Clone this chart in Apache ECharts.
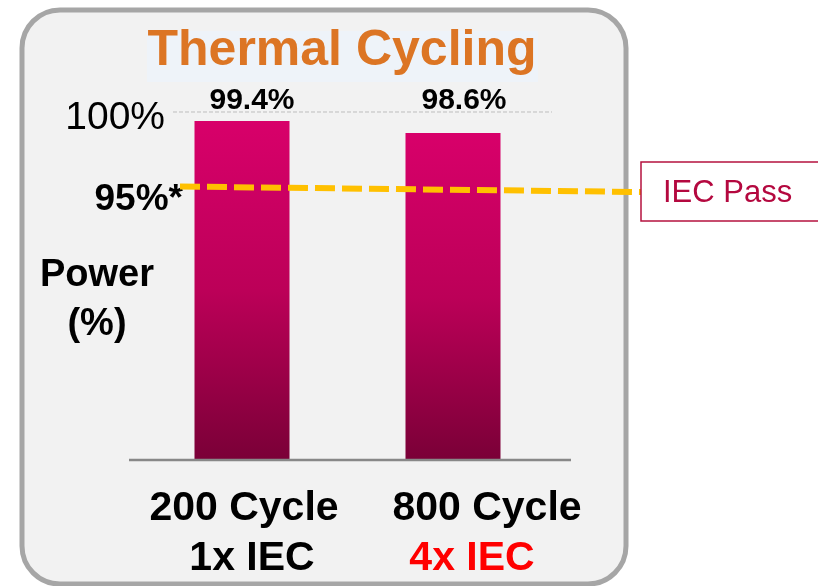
<!DOCTYPE html>
<html>
<head>
<meta charset="utf-8">
<style>
  html, body { margin: 0; padding: 0; background: #ffffff; }
  #chart { width: 818px; height: 586px; }
</style>
<script src="https://cdn.jsdelivr.net/npm/echarts@6/dist/echarts.min.js"></script>
</head>
<body>
<div id="chart"></div>
<script>
// Thermal cycling test: power retained after the cycle count
const categories = ['200 Cycle', '800 Cycle'];
const multiples = ['1x IEC', '4x IEC'];
const powerRetained = [99.4, 98.6];
const fullPower = 100;
const passLevel = 95;
const tickLabels = ['100%', '95%*'];
const passLabel = 'IEC Pass';
const titleText = 'Thermal Cycling';
const axisTitle = 'Power\n(%)';

const FONT = '"Liberation Sans", Arial, Helvetica, sans-serif';
const yMin = 76.8;

const chart = echarts.init(document.getElementById('chart'), null, { renderer: 'canvas' });

const barColor = new echarts.graphic.LinearGradient(0, 0, 0, 1, [
  { offset: 0, color: '#d8006a' },
  { offset: 0.5, color: '#bc0058' },
  { offset: 1, color: '#7a0037' }
]);

// per-bar label placement (both values sit on one baseline)
const labelPlacement = [
  { distance: 5, offset: [10, 0] },
  { distance: 17, offset: [11, 0] }
];

// shift of each text line relative to its bar centre, via left padding
const linePad = [
  { top: 4, bottom: 20 },
  { top: 68, bottom: 38 }
];

const rich = {};
categories.forEach((c, i) => {
  rich['c' + i] = {
    fontFamily: FONT, fontSize: 41, fontWeight: 'bold', color: '#000000',
    lineHeight: 50, padding: [0, 0, 0, linePad[i].top]
  };
  rich['m' + i] = {
    fontFamily: FONT, fontSize: 41, fontWeight: 'bold',
    color: i === 0 ? '#000000' : '#ff0000',
    lineHeight: 50, padding: [0, 0, 0, linePad[i].bottom]
  };
});

chart.setOption({
  animation: false,
  backgroundColor: '#ffffff',
  grid: { left: 136.5, right: 259.5, top: 112, bottom: 126, containLabel: false },
  xAxis: {
    type: 'category',
    data: categories,
    axisLine: { show: false },
    axisTick: { show: false },
    axisLabel: {
      margin: 24,
      interval: 0,
      formatter: (value, idx) => '{c' + idx + '|' + value + '}\n{m' + idx + '|' + multiples[idx] + '}',
      rich: rich
    }
  },
  yAxis: {
    type: 'value',
    min: yMin,
    max: fullPower,
    show: false
  },
  series: [{
    type: 'bar',
    barWidth: 95,
    z: 2,
    data: powerRetained.map((v, i) => ({
      value: v,
      label: {
        show: true,
        position: 'top',
        distance: labelPlacement[i].distance,
        offset: labelPlacement[i].offset,
        formatter: v.toFixed(1) + '%',
        fontFamily: FONT,
        fontSize: 30,
        fontWeight: 'bold',
        color: '#000000'
      }
    })),
    itemStyle: { color: barColor }
  }]
});

function drawDecorations() {
  const yOf = v => chart.convertToPixel({ yAxisIndex: 0 }, v);
  const grid = chart.getModel().getComponent('grid').coordinateSystem.getRect();
  const yBase = yOf(yMin);
  const y100 = yOf(fullPower);
  const y95 = yOf(passLevel);

  chart.setOption({
    graphic: [
      // rounded panel
      {
        type: 'rect', z: -10,
        shape: { x: 22, y: 10, width: 604, height: 574, r: 38 },
        style: { fill: '#f2f2f2', stroke: '#a6a6a6', lineWidth: 5 }
      },
      // title plate
      {
        type: 'rect', z: -9,
        shape: { x: 147, y: 31, width: 391, height: 51 },
        style: { fill: '#eef3f9' }
      },
      {
        type: 'text', z: -8,
        x: 342, y: 51,
        style: {
          text: titleText,
          fontFamily: FONT, fontSize: 50, fontWeight: 'bold',
          fill: '#dc7524',
          shadowColor: 'rgba(248,140,40,0.9)', shadowBlur: 4,
          align: 'center', verticalAlign: 'middle'
        }
      },
      // 100% reference line
      {
        type: 'line', z: 1,
        shape: { x1: 173, y1: y100, x2: 552, y2: y100 },
        style: { stroke: '#bdbdbd', lineWidth: 1, lineDash: [4, 2] }
      },
      // baseline
      {
        type: 'line', z: 3,
        shape: { x1: grid.x - 7.5, y1: yBase, x2: grid.x + grid.width + 12.5, y2: yBase },
        style: { stroke: '#888888', lineWidth: 2.5 }
      },
      // tick labels
      {
        type: 'text', z: 5, x: 165, y: y100 + 6,
        style: {
          text: tickLabels[0], fontFamily: FONT, fontSize: 39, fill: '#000000',
          align: 'right', verticalAlign: 'middle'
        }
      },
      {
        type: 'text', z: 5, x: 183, y: y95 + 13,
        style: {
          text: tickLabels[1], fontFamily: FONT, fontSize: 37, fontWeight: 'bold', fill: '#000000',
          align: 'right', verticalAlign: 'middle'
        }
      },
      {
        type: 'text', z: 5, x: 97, y: 300,
        style: {
          text: axisTitle, fontFamily: FONT, fontSize: 38, fontWeight: 'bold', fill: '#000000',
          lineHeight: 49, align: 'center', verticalAlign: 'middle'
        }
      },
      // pass threshold
      {
        type: 'line', z: 20,
        shape: { x1: 180, y1: y95 - 0.5, x2: 641, y2: y95 + 5 },
        style: { stroke: '#ffc000', lineWidth: 6, lineDash: [20, 7] }
      },
      {
        type: 'rect', z: 21,
        shape: { x: 641, y: 162, width: 200, height: 59 },
        style: { fill: '#ffffff', stroke: '#b5123f', lineWidth: 1.5 }
      },
      {
        type: 'text', z: 22, x: 663, y: 193,
        style: {
          text: passLabel, fontFamily: FONT, fontSize: 31, fill: '#b4083f',
          align: 'left', verticalAlign: 'middle'
        }
      }
    ]
  });
}

drawDecorations();
</script>
</body>
</html>
